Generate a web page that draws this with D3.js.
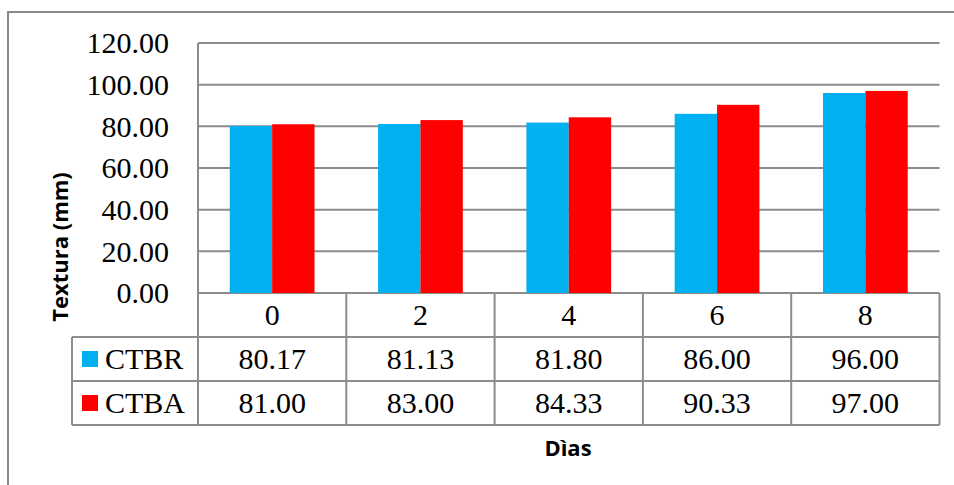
<!DOCTYPE html>
<html>
<head>
<meta charset="utf-8">
<script src="https://cdn.jsdelivr.net/npm/d3@7"></script>
<style>
html,body{margin:0;padding:0;background:#fff;}
svg{display:block;}
</style>
</head>
<body>
<script>
const categories = ["0", "2", "4", "6", "8"];
const seriesNames = ["CTBR", "CTBA"];
const ctbr = [80.17, 81.13, 81.80, 86.00, 96.00];
const ctba = [81.00, 83.00, 84.33, 90.33, 97.00];
const yTicks = [0, 20, 40, 60, 80, 100, 120];
const seriesColors = ["#00B0F0", "#FF0000"];
const yTitle = "Textura (mm)";
const xTitle = "Dìas";

const W = 954, H = 485;
const svg = d3.select("body").append("svg").attr("width", W).attr("height", H);
const gridColor = "#8c8c8c";
const serif = "'Liberation Serif','Times New Roman',serif";
const sans = "'Open Sans','DejaVu Sans',sans-serif";

// outer chart border (extends beyond right/bottom edges)
svg.append("rect").attr("x", 8).attr("y", 12).attr("width", W + 10).attr("height", H + 10)
  .attr("fill", "none").attr("stroke", "#8a8a8a").attr("stroke-width", 2);

const plotLeft = 198, plotRight = 939.5, plotTop = 43, plotBottom = 293;
const rowH = 44;
const tableLeft = 72;

const x = d3.scaleBand().domain(categories).range([plotLeft, plotRight]).padding(0);
const x1 = d3.scaleBand().domain(seriesNames).range([0, x.bandwidth()]).paddingInner(0).paddingOuter(0.75);
const y = d3.scaleLinear().domain([0, 120]).range([plotBottom, plotTop]);

// gridlines
svg.append("g").selectAll("line").data(yTicks).join("line")
  .attr("x1", plotLeft).attr("x2", plotRight)
  .attr("y1", d => y(d)).attr("y2", d => y(d))
  .attr("stroke", gridColor).attr("stroke-width", 2);

// y tick labels
svg.append("g").selectAll("text").data(yTicks).join("text")
  .attr("x", 169).attr("y", d => y(d)).attr("dy", "0.34em")
  .attr("text-anchor", "end").attr("font-family", serif).attr("font-size", 30)
  .attr("fill", "#000").text(d => d3.format(".2f")(d));

// bars
const series = [ctbr, ctba];
const barData = [];
categories.forEach((c, i) => seriesNames.forEach((s, j) => barData.push({c, s, v: series[j][i], color: seriesColors[j]})));
svg.append("g").selectAll("rect").data(barData).join("rect")
  .attr("x", d => x(d.c) + x1(d.s)).attr("width", x1.bandwidth())
  .attr("y", d => y(d.v)).attr("height", d => y(0) - y(d.v))
  .attr("fill", d => d.color);

// table lines
const tg = svg.append("g").attr("stroke", gridColor).attr("stroke-width", 2).attr("fill", "none");
tg.append("line").attr("x1", plotLeft).attr("x2", plotLeft).attr("y1", plotTop).attr("y2", plotBottom + 3 * rowH);
[plotBottom + rowH, plotBottom + 2 * rowH, plotBottom + 3 * rowH].forEach(yy => {
  tg.append("line").attr("x1", tableLeft).attr("x2", plotRight).attr("y1", yy).attr("y2", yy);
});
categories.forEach(c => {
  const xx = x(c) + x.bandwidth();
  tg.append("line").attr("x1", xx).attr("x2", xx).attr("y1", plotBottom).attr("y2", plotBottom + 3 * rowH);
});
tg.append("line").attr("x1", tableLeft).attr("x2", tableLeft).attr("y1", plotBottom + rowH).attr("y2", plotBottom + 3 * rowH);

// header category labels
svg.append("g").selectAll("text").data(categories).join("text")
  .attr("x", d => x(d) + x.bandwidth() / 2).attr("y", plotBottom + rowH / 2).attr("dy", "0.34em")
  .attr("text-anchor", "middle").attr("font-family", serif).attr("font-size", 30).text(d => d);

// rows
series.forEach((vals, j) => {
  const cy = plotBottom + rowH * (j + 1) + rowH / 2;
  svg.append("rect").attr("x", 82).attr("y", cy - 8).attr("width", 16).attr("height", 16).attr("fill", seriesColors[j]);
  svg.append("text").attr("x", 105).attr("y", cy).attr("dy", "0.34em")
    .attr("font-family", serif).attr("font-size", 30).text(seriesNames[j]);
  svg.append("g").selectAll("text").data(vals).join("text")
    .attr("x", (d, i) => x(categories[i]) + x.bandwidth() / 2).attr("y", cy).attr("dy", "0.34em")
    .attr("text-anchor", "middle").attr("font-family", serif).attr("font-size", 30)
    .text(d => d3.format(".2f")(d));
});

// axis titles
svg.append("text").attr("transform", "translate(60,247) rotate(-90)")
  .attr("text-anchor", "middle").attr("dy", "0.35em")
  .attr("font-family", sans).attr("font-weight", "bold").attr("font-size", 22).text(yTitle);
svg.append("text").attr("x", 568).attr("y", 448).attr("dy", "0.35em")
  .attr("text-anchor", "middle").attr("font-family", sans).attr("font-weight", "bold").attr("font-size", 22).text(xTitle);
</script>
</body>
</html>
